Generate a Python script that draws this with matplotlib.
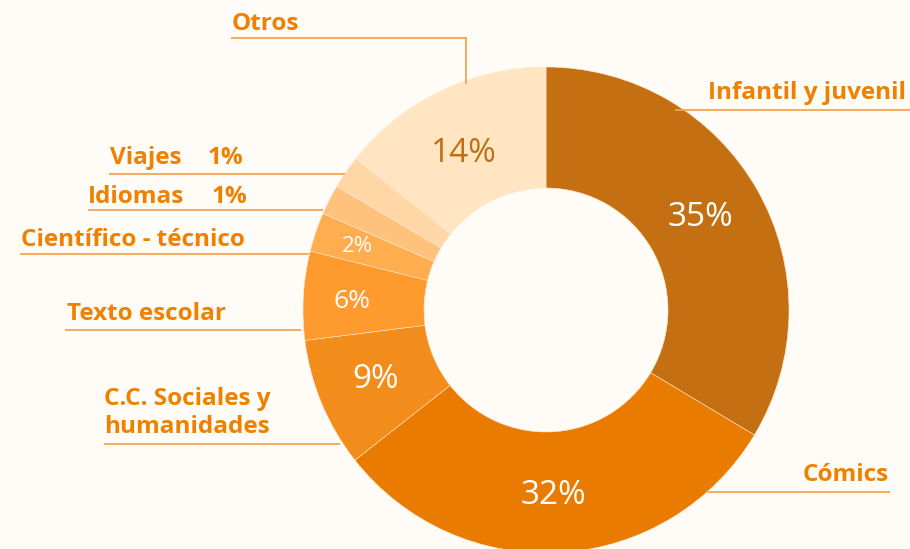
import numpy as np
import matplotlib.pyplot as plt

W, H = 910, 549

categorias = ['Infantil y juvenil', 'Cómics', 'C.C. Sociales y\nhumanidades',
              'Texto escolar', 'Científico - técnico', 'Idiomas', 'Viajes', 'Otros']
# wedge shares as drawn in the picture (the printed labels are rounded)
valores = [33.6, 30.8, 8.6, 5.9, 2.6, 2.0, 2.2, 14.3]
etiquetas_pct = ['35%', '32%', '9%', '6%', '2%', '1%', '1%', '14%']
colores = ['#C47012', '#E87B00', '#F28C1A', '#FF9B2E', '#FFAD4F',
           '#FFC27C', '#FFD6A6', '#FFE5C1']

bg = '#FFFBF6'
naranja = '#F08000'
linea = '#F5A550'

fig = plt.figure(figsize=(W / 100, H / 100), dpi=100, facecolor=bg)
ax = fig.add_axes([0, 0, 1, 1])
ax.set_facecolor(bg)

cx, cy = 546, H - 310
R, r = 243, 122
ax.pie(valores, colors=colores, startangle=90, counterclock=False,
       center=(cx, cy), radius=R,
       wedgeprops=dict(width=R - r, edgecolor='#FFE6CC', linewidth=0.4))
ax.set_xlim(0, W)
ax.set_ylim(0, H)
ax.set_aspect('equal')
ax.axis('off')

# percentages inside the ring (pixel positions from top-left)
pct_pos = [(700, 217), (553, 495), (376, 379), (352, 301), (357, 247),
           None, None, (464, 154)]
pct_size = [24, 24, 24, 19, 16, 0, 0, 24]
for txt, pos, fs in zip(etiquetas_pct, pct_pos, pct_size):
    if pos is None:
        continue
    c = '#C06E14' if txt == '14%' else 'white'
    ax.text(pos[0], H - pos[1], txt, fontsize=fs, color=c, ha='center',
            va='center', family=['Open Sans', 'DejaVu Sans'])

# outer labels: text (x, y, ha) and underline (x0, x1, y)
lab_pos = [(906, 93, 'right'), (889, 475, 'right'), (104, 413, 'left'),
           (67, 314, 'left'), (21, 240, 'left'), (88, 197, 'left'),
           (110, 158, 'left'), (232, 24, 'left')]
lab_line = [(675, 910, 110), (708, 890, 492), (104, 340, 444),
            (65, 301, 330), (20, 309, 254), (88, 323, 210),
            (109, 345, 174), (231, 466, 38)]
font_lab = dict(fontsize=17.5, color=naranja, va='center',
                family=['Open Sans', 'DejaVu Sans'], weight='bold')

for txt, (x, y, ha), (x0, x1, yl) in zip(categorias, lab_pos, lab_line):
    ax.text(x, H - y, txt, ha=ha, linespacing=1.2, **font_lab)
    ax.plot([x0, x1], [H - yl, H - yl], color=linea, lw=1.3,
            solid_capstyle='butt')

# the two smallest slices carry their percentage next to the name
for i, xr in ((5, 247), (6, 243)):
    ax.text(xr, H - lab_pos[i][1], etiquetas_pct[i], ha='right', **font_lab)

# leader for "Otros"
ax.plot([466, 466], [H - 38, H - 83], color=linea, lw=1.3)

fig.savefig('out.png', dpi=100, facecolor=bg)
